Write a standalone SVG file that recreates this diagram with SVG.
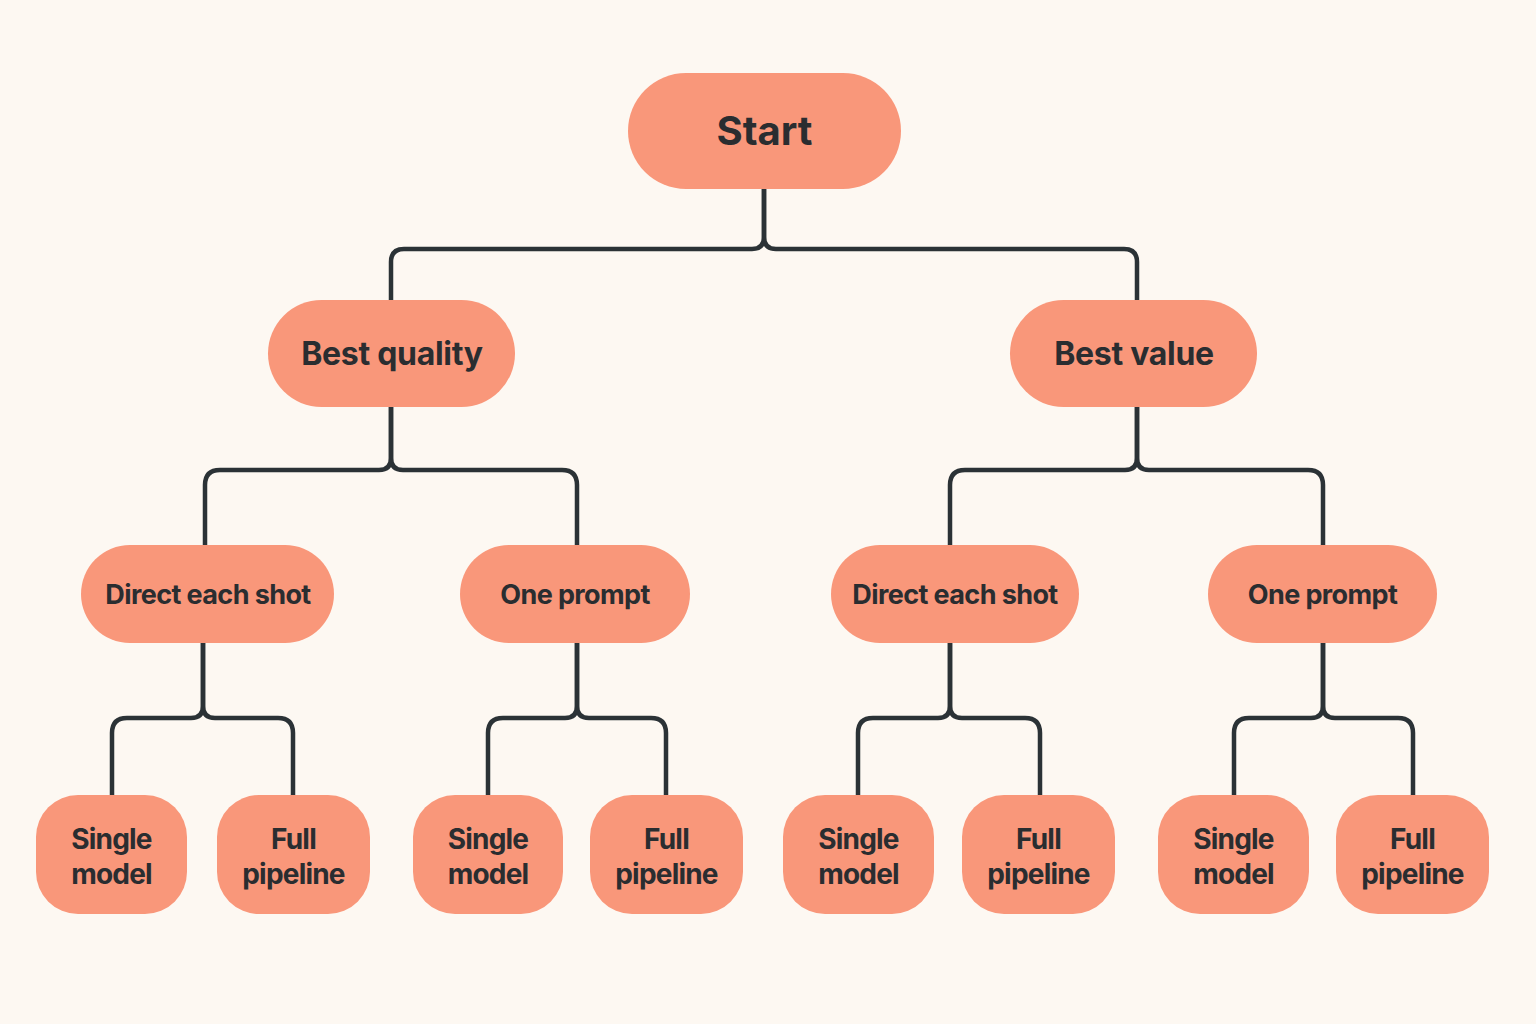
<svg xmlns="http://www.w3.org/2000/svg" width="1536" height="1024" viewBox="0 0 1536 1024">
<style>
.n{fill:#F9977A}
.t{font-family:Inter,"Noto Sans",sans-serif;font-weight:700;fill:#2a2d30;text-anchor:middle}
.m{letter-spacing:-0.6px}
.l{letter-spacing:-0.8px}
.c{fill:none;stroke:#2b3236;stroke-width:4.5;stroke-linecap:butt}
</style>
<rect width="1536" height="1024" fill="#FDF8F2"/>
<g id="connectors">
<path class="c" d="M764 189 V237 Q764 249 752 249 H404 Q391 249 391 262 V300"/>
<path class="c" d="M764 189 V237 Q764 249 776 249 H1124 Q1137 249 1137 262 V300"/>
<path class="c" d="M391 407 V458 Q391 470 379 470 H220 Q205 470 205 485 V545"/>
<path class="c" d="M391 407 V458 Q391 470 403 470 H562 Q577 470 577 485 V545"/>
<path class="c" d="M1137 407 V458 Q1137 470 1125 470 H965 Q950 470 950 485 V545"/>
<path class="c" d="M1137 407 V458 Q1137 470 1149 470 H1308 Q1323 470 1323 485 V545"/>
<path class="c" d="M203 643 V706 Q203 718 191 718 H127 Q112 718 112 733 V795"/>
<path class="c" d="M203 643 V706 Q203 718 215 718 H278 Q293 718 293 733 V795"/>
<path class="c" d="M577 643 V706 Q577 718 565 718 H503 Q488 718 488 733 V795"/>
<path class="c" d="M577 643 V706 Q577 718 589 718 H651 Q666 718 666 733 V795"/>
<path class="c" d="M950 643 V706 Q950 718 938 718 H873 Q858 718 858 733 V795"/>
<path class="c" d="M950 643 V706 Q950 718 962 718 H1025 Q1040 718 1040 733 V795"/>
<path class="c" d="M1323 643 V706 Q1323 718 1311 718 H1249 Q1234 718 1234 733 V795"/>
<path class="c" d="M1323 643 V706 Q1323 718 1335 718 H1398 Q1413 718 1413 733 V795"/>
</g>
<g id="start"><rect class="n" x="628" y="73" width="273" height="116" rx="58"/><text class="t" x="764.5" y="145" font-size="40">Start</text></g>
<g id="best-quality"><rect class="n" x="268" y="300" width="247" height="107" rx="53.5"/><text class="t" x="392" y="365" font-size="32" letter-spacing="-0.3">Best quality</text></g>
<g id="best-value"><rect class="n" x="1010" y="300" width="247" height="107" rx="53.5"/><text class="t" x="1134" y="365" font-size="32" letter-spacing="-0.3">Best value</text></g>
<g id="q-direct"><rect class="n" x="81" y="545" width="253" height="98" rx="49"/><text class="t m" x="208" y="604" font-size="27">Direct each shot</text></g>
<g id="q-one"><rect class="n" x="460" y="545" width="230" height="98" rx="49"/><text class="t m" x="575" y="604" font-size="27">One prompt</text></g>
<g id="v-direct"><rect class="n" x="831" y="545" width="248" height="98" rx="49"/><text class="t m" x="955" y="604" font-size="27">Direct each shot</text></g>
<g id="v-one"><rect class="n" x="1208" y="545" width="229" height="98" rx="49"/><text class="t m" x="1322.5" y="604" font-size="27">One prompt</text></g>
<g id="leaf1"><rect class="n" x="36" y="795" width="151" height="119" rx="42"/><text class="t l" font-size="28"><tspan x="111.5" y="849">Single</tspan><tspan x="111.5" y="884">model</tspan></text></g>
<g id="leaf2"><rect class="n" x="217" y="795" width="153" height="119" rx="42"/><text class="t l" font-size="28"><tspan x="293.5" y="849">Full</tspan><tspan x="293.5" y="884">pipeline</tspan></text></g>
<g id="leaf3"><rect class="n" x="413" y="795" width="150" height="119" rx="42"/><text class="t l" font-size="28"><tspan x="488" y="849">Single</tspan><tspan x="488" y="884">model</tspan></text></g>
<g id="leaf4"><rect class="n" x="590" y="795" width="153" height="119" rx="42"/><text class="t l" font-size="28"><tspan x="666.5" y="849">Full</tspan><tspan x="666.5" y="884">pipeline</tspan></text></g>
<g id="leaf5"><rect class="n" x="783" y="795" width="151" height="119" rx="42"/><text class="t l" font-size="28"><tspan x="858.5" y="849">Single</tspan><tspan x="858.5" y="884">model</tspan></text></g>
<g id="leaf6"><rect class="n" x="962" y="795" width="153" height="119" rx="42"/><text class="t l" font-size="28"><tspan x="1038.5" y="849">Full</tspan><tspan x="1038.5" y="884">pipeline</tspan></text></g>
<g id="leaf7"><rect class="n" x="1158" y="795" width="151" height="119" rx="42"/><text class="t l" font-size="28"><tspan x="1233.5" y="849">Single</tspan><tspan x="1233.5" y="884">model</tspan></text></g>
<g id="leaf8"><rect class="n" x="1336" y="795" width="153" height="119" rx="42"/><text class="t l" font-size="28"><tspan x="1412.5" y="849">Full</tspan><tspan x="1412.5" y="884">pipeline</tspan></text></g>
</svg>
